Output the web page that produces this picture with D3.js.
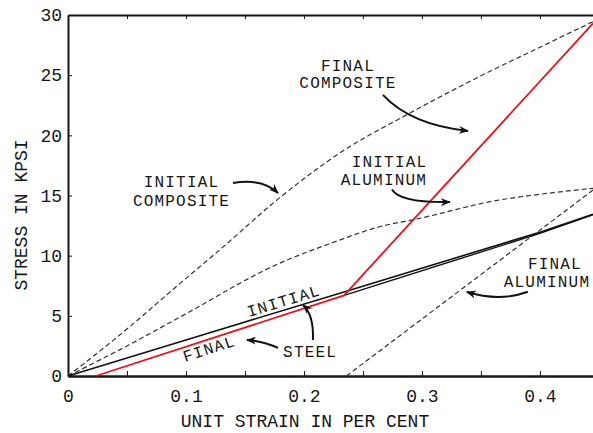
<!DOCTYPE html>
<html>
<head>
<meta charset="utf-8">
<script src="https://cdn.jsdelivr.net/npm/d3@7"></script>
<style>
  body { margin: 0; background: #fff; }
  text { font-family: "Liberation Mono", "Courier New", monospace; font-size: 18px; fill: #161616; }
  text.lab { font-size: 16px; letter-spacing: 1.2px; }
  .axis path, .axis line { stroke: #161616; }
</style>
</head>
<body>
<svg id="chart" width="593" height="433"></svg>
<script>
// values: strain in per cent, stress in kpsi
var compInitStrain = [0, 0.045, 0.095, 0.13, 0.178, 0.233, 0.287, 0.349, 0.406, 0.445]
var compInitStress = [0, 3.5, 7.7, 10.6, 14.7, 18.7, 21.7, 24.9, 27.6, 29.45]

var alumInitStrain = [0, 0.05, 0.095, 0.18, 0.222, 0.264, 0.298, 0.364, 0.392, 0.445]
var alumInitStress = [0, 2.5, 4.9, 9.4, 11.0, 12.4, 13.1, 14.6, 15.0, 15.6]

var alumFinalStrain = [0.236, 0.445]
var alumFinalStress = [0, 15.45]

var steelInitStrain = [0, 0.1, 0.236, 0.4, 0.445]
var steelInitStress = [0, 3.0, 7.05, 11.95, 13.45]

var steelTailStrain = [0.234, 0.4, 0.445]
var steelTailStress = [6.7, 11.85, 13.4]

var compFinalStrain = [0.0235, 0.234, 0.445]
var compFinalStress = [0, 6.7, 29.3]

var xMinor = [0.05, 0.1, 0.15, 0.2, 0.25, 0.3, 0.35, 0.4]
var xLabels = [0, 0.1, 0.2, 0.3, 0.4]
var yTicks = [0, 5, 10, 15, 20, 25, 30]

// curve labels: [text, strain, stress] (anchor middle)
var labels = [
  ["FINAL", 0.2373, 25.35],
  ["COMPOSITE", 0.2373, 23.9],
  ["INITIAL", 0.2725, 17.37],
  ["ALUMINUM", 0.2678, 15.84],
  ["INITIAL", 0.0962, 15.71],
  ["COMPOSITE", 0.0962, 14.1],
  ["FINAL", 0.4127, 8.9],
  ["ALUMINUM", 0.406, 7.42],
  ["STEEL", 0.2052, 1.58]
]
// rotated labels along the steel lines: [text, strain, stress, angle]
var slanted = [
  ["INITIAL", 0.1534, 4.9, -17],
  ["FINAL", 0.0992, 1.16, -18]
]
// pointer arrows: start, control, end (strain, stress)
var arrows = [
  [[0.2669, 23.36], [0.2907, 20.86], [0.339, 20.37]],
  [[0.2746, 15.5], [0.2814, 14.38], [0.3237, 14.46]],
  [[0.1398, 16.04], [0.1644, 16.46], [0.178, 15.21]],
  [[0.3898, 7.0], [0.3661, 6.15], [0.3381, 6.98]],
  [[0.178, 2.33], [0.1653, 2.9], [0.1517, 2.99]],
  [[0.2076, 2.99], [0.2085, 5.07], [0.1992, 5.9]]
]

var svg = d3.select("#chart")

var x = d3.scaleLinear().domain([0, 0.445]).range([68, 593])
var y = d3.scaleLinear().domain([0, 30]).range([376, 15])

var zip = (xs, ys) => xs.map((v, i) => [v, ys[i]])

var line = d3.line().x(d => x(d[0])).y(d => y(d[1]))
var smooth = d3.line().x(d => x(d[0])).y(d => y(d[1])).curve(d3.curveMonotoneX)

// axes
svg.append("g").attr("class", "axis").attr("transform", "translate(0,376)")
  .call(d3.axisBottom(x).tickValues(xMinor).tickSize(-5).tickSizeOuter(0).tickFormat(""))
svg.append("g").attr("class", "axis").attr("transform", "translate(0,376)")
  .call(d3.axisBottom(x).tickValues(xLabels).tickSize(0).tickPadding(13)
    .tickFormat(d => d === 0 ? "0" : d3.format(".1f")(d)))
svg.append("g").attr("class", "axis").attr("transform", "translate(0,15)")
  .call(d3.axisTop(x).tickValues(xMinor).tickSize(-4).tickSizeOuter(0).tickFormat(""))
svg.append("g").attr("class", "axis").attr("transform", "translate(68,0)")
  .call(d3.axisLeft(y).tickValues(yTicks).tickSize(-4).tickSizeOuter(0).tickPadding(6))

svg.selectAll(".axis path.domain").attr("stroke-width", 2)
svg.selectAll(".axis text").style("font-family", "Liberation Mono, monospace").style("font-size", "18px").attr("fill", "#161616")
svg.selectAll(".axis line").filter(d => d === 0).remove()

svg.append("text").attr("x", 305).attr("y", 427).attr("text-anchor", "middle").text("UNIT STRAIN IN PER CENT")
svg.append("text").attr("transform", "translate(27,215) rotate(-90)").attr("text-anchor", "middle").text("STRESS IN KPSI")

// dashed curves
var dashed = [
  zip(compInitStrain, compInitStress),
  zip(alumInitStrain, alumInitStress)
]
svg.selectAll(".dash").data(dashed).join("path")
  .attr("d", smooth).attr("fill", "none").attr("stroke", "#333")
  .attr("stroke-width", 1.2).attr("stroke-dasharray", "5,3")
svg.append("path").datum(zip(alumFinalStrain, alumFinalStress))
  .attr("d", line).attr("fill", "none").attr("stroke", "#333")
  .attr("stroke-width", 1.2).attr("stroke-dasharray", "5,3")

// steel
svg.append("path").datum(zip(steelInitStrain, steelInitStress))
  .attr("d", line).attr("fill", "none").attr("stroke", "#111").attr("stroke-width", 1.6)
svg.append("path").datum(zip(steelTailStrain, steelTailStress))
  .attr("d", line).attr("fill", "none").attr("stroke", "#111").attr("stroke-width", 1.4)

// final composite (red)
svg.append("path").datum(zip(compFinalStrain, compFinalStress))
  .attr("d", line).attr("fill", "none").attr("stroke", "#e8141c").attr("stroke-width", 1.8)

// labels
svg.selectAll(".lab").data(labels).join("text").attr("class", "lab")
  .attr("x", d => x(d[1])).attr("y", d => y(d[2]))
  .attr("text-anchor", "middle").text(d => d[0])
svg.selectAll(".slant").data(slanted).join("text").attr("class", "lab")
  .attr("transform", d => "translate(" + x(d[1]) + "," + y(d[2]) + ") rotate(" + d[3] + ")")
  .text(d => d[0])

// arrows
svg.append("defs").append("marker")
  .attr("id", "head").attr("viewBox", "0 0 10 8").attr("refX", 9).attr("refY", 4)
  .attr("markerWidth", 10).attr("markerHeight", 8).attr("markerUnits", "userSpaceOnUse")
  .attr("orient", "auto")
  .append("path").attr("d", "M0,0L10,4L0,8L3,4Z").attr("fill", "#111")

svg.selectAll(".arrow").data(arrows).join("path")
  .attr("d", d => "M" + x(d[0][0]) + "," + y(d[0][1]) + "Q" + x(d[1][0]) + "," + y(d[1][1]) + " " + x(d[2][0]) + "," + y(d[2][1]))
  .attr("fill", "none").attr("stroke", "#111").attr("stroke-width", 2)
  .attr("marker-end", "url(#head)")
</script>
</body>
</html>
